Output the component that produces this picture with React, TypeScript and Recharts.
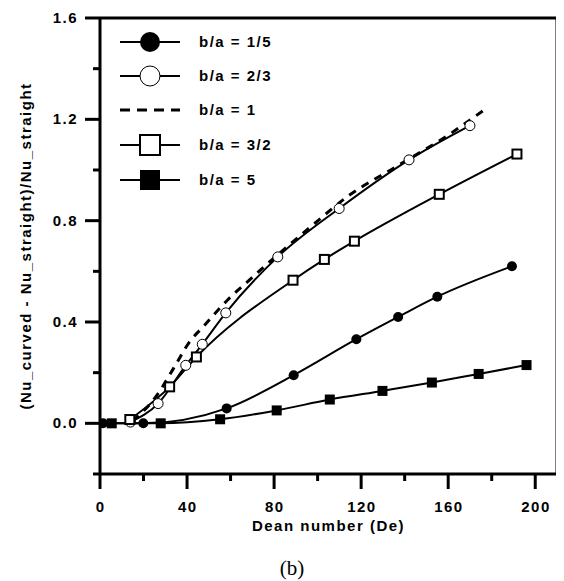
import React from "react";
import {
  LineChart,
  Line,
  XAxis,
  YAxis,
  ReferenceLine,
  Legend,
  Label,
} from "recharts";

// Dean number / Nusselt ratio readings per aspect ratio
const deFilledCircle = [1.4, 19.9, 58.2, 89, 117.8, 137, 155, 189.3];
const nuFilledCircle = [0, 0, 0.059, 0.19, 0.332, 0.42, 0.5, 0.62];

const deOpenCircle = [14, 26.7, 39.4, 47, 57.8, 81.7, 109.9, 142, 170];
const nuOpenCircle = [0.005, 0.078, 0.229, 0.312, 0.436, 0.657, 0.848, 1.04, 1.175];

const deDashed = [15, 25.6, 34, 41, 47.8, 58.5, 70, 75.4, 96, 114.5, 136, 159, 176];
const nuDashed = [0.01, 0.104, 0.22, 0.32, 0.385, 0.486, 0.576, 0.618, 0.77, 0.9, 1.013, 1.132, 1.234];

const deOpenSquare = [13.7, 32, 44.3, 88.7, 103.1, 116.9, 155.9, 191.6];
const nuOpenSquare = [0.015, 0.144, 0.262, 0.565, 0.647, 0.719, 0.904, 1.063];

const deFilledSquare = [5.4, 27.9, 55.2, 81.2, 105.6, 129.8, 152.5, 174, 196];
const nuFilledSquare = [0, 0, 0.016, 0.051, 0.094, 0.128, 0.161, 0.195, 0.23];

const legendLabels = ["b/a = 1/5", "b/a = 2/3", "b/a = 1", "b/a = 3/2", "b/a = 5"];
const xTicks = [0, 20, 40, 60, 80, 100, 120, 140, 160, 180, 200];
const yTicks = [-0.2, 0, 0.2, 0.4, 0.6, 0.8, 1.0, 1.2, 1.4, 1.6];

const toPoints = (xs: number[], ys: number[]) => xs.map((x, i) => ({ x, y: ys[i] }));

const FONT = "Arial, 'Liberation Sans', sans-serif";
const textStyle = { fontFamily: FONT, fontWeight: 700, fontSize: 15, letterSpacing: 1.5 };

type Marker = "filledCircle" | "openCircle" | "none" | "openSquare" | "filledSquare";

const drawMarker = (kind: Marker, cx: number, cy: number, s: number, key?: any) => {
  switch (kind) {
    case "filledCircle":
      return <circle key={key} cx={cx} cy={cy} r={s / 2} fill="#000" />;
    case "openCircle":
      return <circle key={key} cx={cx} cy={cy} r={s / 2} fill="#fff" stroke="#000" strokeWidth={1} />;
    case "openSquare":
      return (
        <rect key={key} x={cx - s / 2} y={cy - s / 2} width={s} height={s} fill="#fff" stroke="#000" strokeWidth={2} />
      );
    case "filledSquare":
      return <rect key={key} x={cx - s / 2} y={cy - s / 2} width={s} height={s} fill="#000" />;
    default:
      return <g key={key} />;
  }
};

const dotFor = (kind: Marker) => (p: any) => drawMarker(kind, p.cx, p.cy, kind === "openSquare" ? 9 : 10, p.index);

const series = [
  { name: legendLabels[0], data: toPoints(deFilledCircle, nuFilledCircle), marker: "filledCircle" as Marker },
  { name: legendLabels[1], data: toPoints(deOpenCircle, nuOpenCircle), marker: "openCircle" as Marker },
  { name: legendLabels[2], data: toPoints(deDashed, nuDashed), marker: "none" as Marker },
  { name: legendLabels[3], data: toPoints(deOpenSquare, nuOpenSquare), marker: "openSquare" as Marker },
  { name: legendLabels[4], data: toPoints(deFilledSquare, nuFilledSquare), marker: "filledSquare" as Marker },
];

const XTick = (props: any) => {
  const { x, y, payload } = props;
  const v = payload.value;
  const major = v % 40 === 0;
  return (
    <g>
      <line x1={x} x2={x} y1={y} y2={y + (major ? 15 : 7)} stroke="#000" strokeWidth={3} />
      {major && (
        <text x={x + 0.75} y={y + 38} textAnchor="middle" fill="#000" style={textStyle}>
          {v}
        </text>
      )}
    </g>
  );
};

const YTick = (props: any) => {
  const { x, y, payload } = props;
  const v = payload.value;
  const r = v / 0.4;
  const major = Math.abs(r - Math.round(r)) < 1e-6;
  return (
    <g>
      <line x1={x} x2={x - (major ? 15 : 7)} y1={y} y2={y} stroke="#000" strokeWidth={3} />
      {major && (
        <text x={x - 22} y={y + 5} textAnchor="end" fill="#000" style={textStyle}>
          {v.toFixed(1)}
        </text>
      )}
    </g>
  );
};

const XTitle = (props: any) => {
  const vb = props.viewBox;
  return (
    <g>
      <text x={vb.x + vb.width / 2} y={vb.y + 57} textAnchor="middle" fill="#000" style={textStyle}>
        Dean number (De)
      </text>
      <text
        x={284}
        y={567}
        textAnchor="middle"
        fill="#000"
        style={{ fontFamily: "'Times New Roman', 'Liberation Serif', serif", fontSize: 21 }}
      >
        (b)
      </text>
    </g>
  );
};

const YTitle = (props: any) => {
  const vb = props.viewBox;
  const cx = 17;
  const cy = vb.y + vb.height / 2;
  return (
    <text
      x={cx}
      y={cy}
      textAnchor="middle"
      dominantBaseline="central"
      transform={`rotate(-90, ${cx}, ${cy})`}
      fill="#000"
      style={textStyle}
    >
      (Nu_curved - Nu_straight)/Nu_straight
    </text>
  );
};

const rowY = [20, 54, 88, 123, 158];

const LegendBox = () => (
  <svg width={200} height={180}>
    {series.map((s, i) => (
      <g key={s.name}>
        {s.marker === "none" ? (
          <line x1={10} x2={70} y1={rowY[i]} y2={rowY[i]} stroke="#000" strokeWidth={3} strokeDasharray="10 7" />
        ) : (
          <line x1={10} x2={70} y1={rowY[i]} y2={rowY[i]} stroke="#000" strokeWidth={2} />
        )}
        {drawMarker(s.marker, 40, rowY[i], 20)}
        <text x={89} y={rowY[i] + 5} fill="#000" style={textStyle}>
          {s.name}
        </text>
      </g>
    ))}
  </svg>
);

export default function App() {
  return (
    <LineChart width={552} height={573} margin={{ top: 10, right: 3, left: 0, bottom: 47 }}>
      <XAxis
        dataKey="x"
        type="number"
        domain={[0, 210]}
        ticks={xTicks}
        interval={0}
        tickSize={0}
        tickMargin={0}
        tickLine={false}
        tick={<XTick />}
        height={60}
        axisLine={{ stroke: "#000", strokeWidth: 3 }}
        allowDataOverflow
      >
        <Label content={XTitle} />
      </XAxis>
      <YAxis
        type="number"
        domain={[-0.2, 1.6]}
        ticks={yTicks}
        interval={0}
        tickSize={0}
        tickMargin={0}
        tickLine={false}
        tick={<YTick />}
        width={92}
        axisLine={{ stroke: "#000", strokeWidth: 3 }}
        allowDataOverflow
      >
        <Label content={YTitle} />
      </YAxis>
      <ReferenceLine y={1.6} stroke="#000" strokeWidth={3} />
      <ReferenceLine x={210} stroke="#000" strokeWidth={3} />
      <Legend
        layout="vertical"
        align="center"
        verticalAlign="middle"
        content={LegendBox}
        wrapperStyle={{ left: 102, top: 14, width: 200, height: 180 }}
      />
      {series.map((s) => (
        <Line
          key={s.name}
          name={s.name}
          data={s.data}
          dataKey="y"
          type="monotone"
          stroke="#000"
          strokeWidth={s.marker === "none" ? 3 : 2}
          strokeDasharray={s.marker === "none" ? "8 7" : undefined}
          dot={s.marker === "none" ? false : dotFor(s.marker)}
          activeDot={false}
          isAnimationActive={false}
        />
      ))}
    </LineChart>
  );
}
